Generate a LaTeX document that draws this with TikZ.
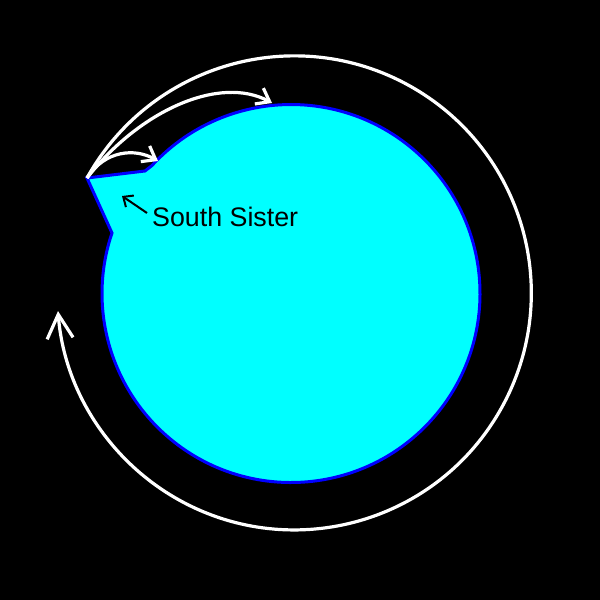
\documentclass[tikz,border=0pt]{standalone}
\usepackage{fontspec}
\setmainfont{Liberation Sans}
\usetikzlibrary{arrows.meta}
\definecolor{aqua}{RGB}{0,255,255}
\definecolor{pureblue}{RGB}{0,0,255}
\begin{document}
\begin{tikzpicture}[x=1pt,y=1pt,
  whitearrow/.style={draw=white, line width=3.2pt, -{Straight Barb[length=12pt,width=18pt,line width=3.2pt]}},
  bigarrow/.style={draw=white, line width=3.2pt, -{Straight Barb[length=24pt,width=26pt,line width=3.2pt]}},
  label/.style={font=\fontsize{26.8}{30}\selectfont, text=black, inner sep=0pt, anchor=base west},
  pointer/.style={draw=black, line width=2pt, -{Straight Barb[length=8pt,width=14pt,line width=2pt]}}]
\fill[black] (0,0) rectangle (600,600);
\useasboundingbox (0,0) rectangle (600,600);
% key points
\coordinate (tip) at (87,422);
\coordinate (notchtop) at (145,429);
\coordinate (notchbot) at (112,367);
\coordinate (a1end) at (158,439);
\coordinate (a2end) at (272,497);
% body
\filldraw[fill=aqua, draw=pureblue, line width=3pt, line join=miter]
  (tip) -- (notchtop) -- (151.9,434.4)
  arc[start angle=137.4, end angle=-196.5, radius=189]
  -- (notchbot) -- cycle;
% big orbit arrow
\draw[bigarrow] (tip) arc[start angle=151, end angle=-175.6, radius=237];
% small arrows
\draw[whitearrow] (tip) .. controls (105,450) and (135,452) .. (a1end);
\draw[whitearrow] (tip) .. controls (140,490) and (220,525) .. (a2end);
% label
\node[label] (lbl) at (152,373) {South Sister};
\coordinate (ptrstart) at (147,387);
\coordinate (ptrend) at (122,404);
\draw[pointer] (ptrstart) -- (ptrend);
\end{tikzpicture}
\end{document}
